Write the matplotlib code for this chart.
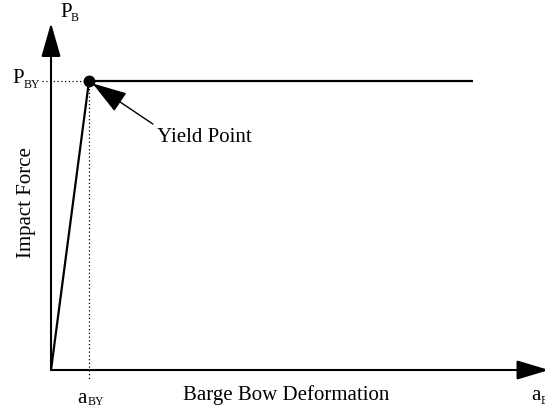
import matplotlib.pyplot as plt

plt.rcParams['font.family'] = ['Liberation Serif', 'DejaVu Serif']

# elastic-perfectly-plastic barge bow response
deformation = [0.0, 0.09, 1.0]
force = [0.0, 1.0, 1.0]
a_by = deformation[1]
p_by = force[1]

fig = plt.figure(figsize=(5.45, 4.12), dpi=100)
ax = fig.add_axes([0, 0, 1, 1])
ax.set_xlim(-0.1209, 1.1706)
ax.set_ylim(-0.1453, 1.2803)
ax.axis('off')

# axes with arrow heads
ax.annotate('', xy=(0, 1.2007), xytext=(0, 0), annotation_clip=False,
            arrowprops=dict(arrowstyle='-|>,head_length=2.1,head_width=0.6',
                            lw=1.5, color='k', shrinkA=0, shrinkB=0))
ax.annotate('', xy=(1.18, 0), xytext=(0, 0), annotation_clip=False,
            arrowprops=dict(arrowstyle='-|>,head_length=2.0,head_width=0.6',
                            lw=1.5, color='k', shrinkA=0, shrinkB=0))

# load-deformation curve
ax.plot(deformation, force, color='k', lw=1.6, solid_capstyle='butt')
ax.plot(a_by, p_by, 'o', color='k', ms=7.5)

# dotted guides to the yield point
ax.plot([-0.0213, a_by], [p_by, p_by], ls=(0, (1, 2)), color='k', lw=0.9)
ax.plot([a_by, a_by], [p_by, -0.035], ls=(0, (1, 2)), color='k', lw=0.9)

# yield point callout
ax.annotate('', xy=(a_by, p_by), xytext=(46, -31), textcoords='offset points',
            annotation_clip=False,
            arrowprops=dict(arrowstyle='-|>,head_length=2.2,head_width=0.7',
                            lw=1.0, color='k', shrinkA=0, shrinkB=3))
ax.annotate('Yield Point', xy=(a_by, p_by), xytext=(49, -44),
            textcoords='offset points', fontsize=15, ha='left', va='baseline')

# axis symbols
big = 15
small = 8.5
ax.text(0.0213, 1.2215, 'P', fontsize=big, va='baseline')
ax.text(0.0474, 1.208, 'B', fontsize=small, va='baseline')
ax.text(-0.0924, p_by - 0.007, 'P', fontsize=big, va='baseline')
ax.text(-0.064, p_by - 0.024, 'BY', fontsize=small, va='baseline')
ax.text(a_by - 0.0284, -0.1142, 'a', fontsize=big, va='baseline')
ax.text(a_by - 0.0023, -0.1211, 'BY', fontsize=small, va='baseline')
ax.text(1.1374, -0.1038, 'a', fontsize=big, va='baseline')
ax.text(1.161, -0.1176, 'B', fontsize=small, va='baseline')

# axis titles
ax.text(0.3128, -0.1038, 'Barge Bow Deformation', fontsize=big, va='baseline')
ax.text(-0.0592, 0.578, 'Impact Force', fontsize=big, rotation=90,
        ha='center', va='center')

fig.savefig('out.png', dpi=100)
